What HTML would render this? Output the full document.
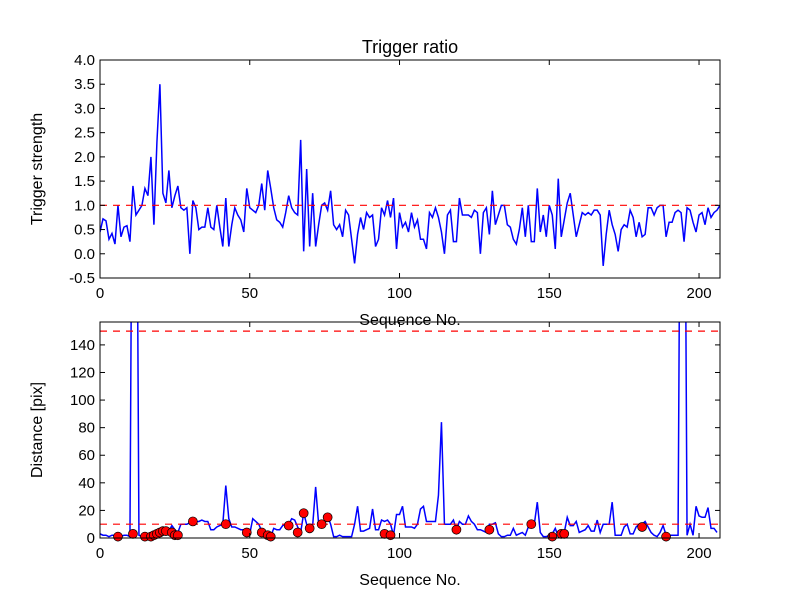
<!DOCTYPE html>
<html><head><meta charset="utf-8"><style>
body{margin:0;background:#fff;width:800px;height:600px;overflow:hidden}
svg{font-family:"Liberation Sans","DejaVu Sans",sans-serif}
</style></head><body>
<svg id="chart" width="800" height="600" xmlns="http://www.w3.org/2000/svg">
<rect width="800" height="600" fill="#fff"/>
<text x="410" y="53" font-size="18" text-anchor="middle">Trigger ratio</text>
<g id="top"></g>
<g id="bot"></g>
</svg>
<script>
const strength=[0.45,0.72,0.68,0.3,0.42,0.2,1.0,0.35,0.55,0.58,0.25,1.4,0.8,0.9,1.0,1.35,1.2,2.0,0.6,2.3,3.5,1.25,1.05,1.72,0.95,1.2,1.4,0.95,0.9,0.95,0.0,1.1,0.95,0.5,0.55,0.55,0.95,0.55,0.5,1.0,0.55,0.15,1.15,0.15,0.6,0.95,0.8,0.7,0.45,1.35,0.95,0.9,0.85,1.0,1.45,0.9,1.72,1.35,0.95,0.7,0.65,0.55,0.85,1.2,0.95,0.85,0.8,2.35,0.05,1.75,0.15,1.25,0.15,0.6,1.0,1.05,0.9,1.3,0.6,0.5,0.6,0.35,0.9,0.8,0.3,-0.2,0.4,0.75,0.5,0.85,0.75,0.8,0.15,0.3,0.95,0.8,1.1,0.75,1.15,0.1,0.85,0.55,0.65,0.45,0.85,0.55,0.7,0.3,0.3,0.1,0.85,0.75,0.95,0.75,0.45,0.0,0.8,0.9,0.25,0.25,1.15,0.8,0.8,0.8,0.75,0.9,0.85,0.0,0.85,0.95,0.4,1.3,0.6,0.8,1.0,1.0,0.6,0.55,0.3,0.2,0.5,0.95,0.35,1.0,0.25,0.25,1.35,0.45,0.8,0.35,1.0,0.8,0.1,1.55,0.35,0.7,1.05,1.25,0.8,0.35,0.6,0.85,0.8,0.85,0.8,0.9,0.9,0.8,-0.25,0.4,0.9,0.6,0.4,0.05,0.5,0.6,0.55,0.9,0.75,0.35,0.65,0.35,0.4,0.95,0.95,0.8,0.95,1.0,1.0,0.35,0.65,0.65,0.85,0.9,0.85,0.25,0.95,0.9,0.65,0.45,0.8,0.85,0.6,0.95,0.75,0.85,0.9,1.0];
const distance=[3,2,2,1,2,2,1,1,2,2,1,400,400,2,1,1,2,2,3,4,5,5,6,5,9,6,4,10,10,10,11,12,12,12,13,12,12,6,6,8,9,10,38,14,8,8,7,6,6,5,3,14,12,10,5,2,2,1,7,6,6,9,10,10,14,13,8,4,18,10,8,9,37,10,10,12,16,10,1,1,2,1,1,1,1,10,23,5,5,6,7,21,6,6,13,12,13,10,2,17,17,23,8,8,8,7,10,21,23,12,12,12,12,31,84,10,10,10,13,6,12,10,10,16,12,10,6,6,5,4,10,10,11,3,1,1,2,2,7,2,3,4,2,8,10,10,26,4,1,1,2,3,7,1,3,4,15,9,9,12,4,5,6,9,5,5,13,4,10,10,10,26,2,2,2,8,10,3,3,8,10,10,12,8,4,2,1,4,9,2,2,2,2,2,400,400,2,10,2,23,16,15,15,22,7,7,4];
const dotIdx=[6,11,15,17,18,19,20,21,22,24,25,26,31,42,49,54,56,57,63,66,68,70,74,76,95,97,119,130,144,151,154,155,181,189];
const dotVal=[1,3,1,1,2,3,4,5,5,4,2,2,12,10,4,4,2,1,9,4,18,7,10,15,3,2,6,6,10,1,3,3,8,1];
const xTicks=[0,50,100,150,200];
const topTicks=[-0.5,0,0.5,1,1.5,2,2.5,3,3.5,4];
const botTicks=[0,20,40,60,80,100,120,140];
const NS="http://www.w3.org/2000/svg";
function mk(p,t,a){const e=document.createElementNS(NS,t);for(const k in a)e.setAttribute(k,a[k]);p.appendChild(e);return e;}
function panel(g,y0,y1,ymin,ymax,ticks,fmt,ylabel,name){
 const X0=100,X1=720;
 const sx=v=>X0+(v-0)/(207-0)*(X1-X0);
 const sy=v=>y1-(v-ymin)/(ymax-ymin)*(y1-y0);
 const cp=mk(g,'clipPath',{id:'cp'+name});mk(cp,'rect',{x:X0,y:y0,width:X1-X0,height:y1-y0});
 return {sx,sy,X0,X1,finish:()=>{
  const fr=mk(g,'rect',{x:X0,y:y0,width:X1-X0,height:y1-y0,fill:'none',stroke:'#000','stroke-width':1});
  
  xTicks.forEach(t=>{const x=sx(t);mk(g,'line',{x1:x,x2:x,y1:y1,y2:y1-5,stroke:'#000'});mk(g,'line',{x1:x,x2:x,y1:y0,y2:y0+5,stroke:'#000'});
   const tx=mk(g,'text',{x:x,y:y1+20,'font-size':15,'text-anchor':'middle'});tx.textContent=t;
   });
  ticks.forEach(t=>{const y=sy(t);mk(g,'line',{x1:X0,x2:X0+5,y1:y,y2:y,stroke:'#000'});mk(g,'line',{x1:X1,x2:X1-5,y1:y,y2:y,stroke:'#000'});
   const tx=mk(g,'text',{x:X0-5,y:y+5,'font-size':15,'text-anchor':'end'});tx.textContent=fmt(t);
   });
  const xl=mk(g,'text',{x:410,y:y1+47,'font-size':16,'text-anchor':'middle'});xl.textContent='Sequence No.';
  
  const yc=(y0+y1)/2;const yl=mk(g,'text',{x:42,y:yc,'font-size':16,'text-anchor':'middle',transform:`rotate(-90 42 ${yc})`});yl.textContent=ylabel;
  
 }};
}
const gt=document.getElementById('top'),gb=document.getElementById('bot');
const T=panel(gt,60,278,-0.5,4,topTicks,v=>v.toFixed(1),'Trigger strength','top');
const cg=mk(gt,'g',{'clip-path':'url(#cptop)'});
const l1=mk(cg,'polyline',{points:strength.map((v,i)=>T.sx(i)+','+T.sy(v)).join(' '),fill:'none',stroke:'#0000ff','stroke-width':1.5});

const th1=mk(cg,'line',{x1:100,x2:720,y1:T.sy(1),y2:T.sy(1),stroke:'#ff0000','stroke-width':1.2,'stroke-dasharray':'7,6'});

T.finish();
const B=panel(gb,322,538,0,156.6,botTicks,v=>v,'Distance [pix]','bottom');
const cb=mk(gb,'g',{'clip-path':'url(#cpbottom)'});
const l2=mk(cb,'polyline',{points:distance.map((v,i)=>B.sx(i)+','+B.sy(v)).join(' '),fill:'none',stroke:'#0000ff','stroke-width':1.5});

[10,150].forEach(v=>{const l=mk(cb,'line',{x1:100,x2:720,y1:B.sy(v),y2:B.sy(v),stroke:'#ff0000','stroke-width':1.2,'stroke-dasharray':'7,6'});
 });
dotIdx.forEach((ix,k)=>{const c=mk(gb,'circle',{cx:B.sx(ix),cy:B.sy(dotVal[k]),r:4.5,fill:'#ff0000',stroke:'#000','stroke-width':0.7});
 });
B.finish();
</script>
</body></html>
